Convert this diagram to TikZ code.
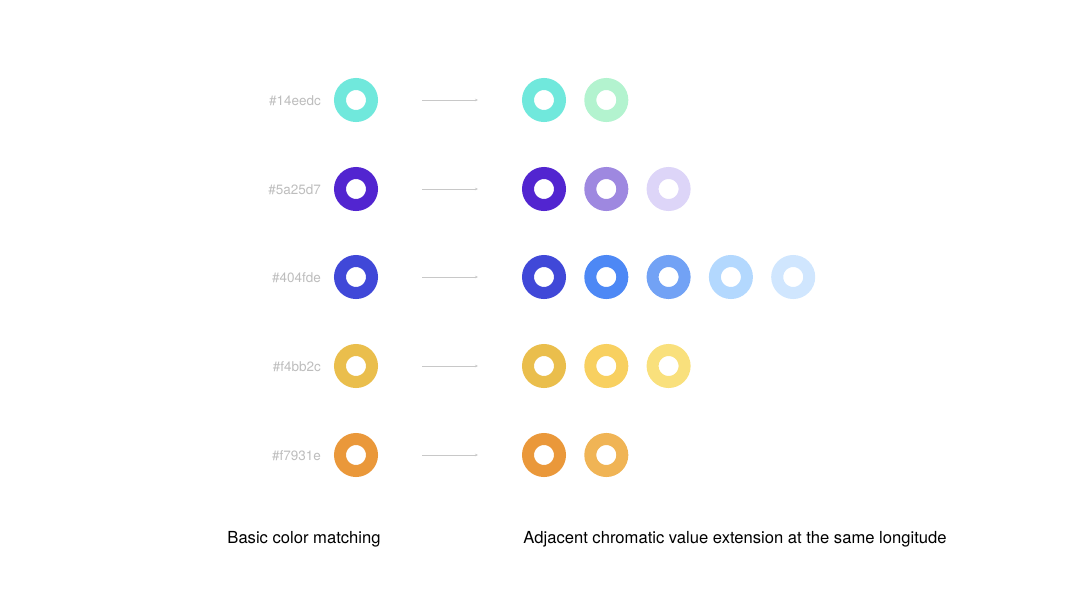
\documentclass[tikz,border=0pt]{standalone}
\usepackage{fontspec}
\setmainfont{TeX Gyre Heros}
\usetikzlibrary{arrows.meta}
\definecolor{hexgray}{HTML}{BDBDBD}
\definecolor{linegray}{HTML}{C8C8C8}
\definecolor{aquaA}{HTML}{70E8DC}
\definecolor{aquaB}{HTML}{B3F3CF}
\definecolor{violetA}{HTML}{5225D0}
\definecolor{violetB}{HTML}{9E88E0}
\definecolor{violetC}{HTML}{DDD5F8}
\definecolor{blueA}{HTML}{4048D8}
\definecolor{blueB}{HTML}{4D88F5}
\definecolor{blueC}{HTML}{72A2F5}
\definecolor{blueD}{HTML}{B3D8FE}
\definecolor{blueE}{HTML}{D0E6FE}
\definecolor{yellowA}{HTML}{EABE4C}
\definecolor{yellowB}{HTML}{F8D060}
\definecolor{yellowC}{HTML}{F9E07C}
\definecolor{orangeA}{HTML}{EA983A}
\definecolor{orangeB}{HTML}{F0B455}
\begin{document}
\begin{tikzpicture}[x=1pt,y=-1pt,node distance=62.3pt,
  ring/.style={circle,draw=#1,line width=12pt,minimum size=32pt,inner sep=0pt,outer sep=6pt},
  hex/.style={anchor=east,inner sep=0pt,text=hexgray,font=\fontsize{13.5}{16}\selectfont},
  caption/.style={font=\fontsize{16.6}{19}\selectfont},
  conn/.style={-{Stealth[length=3pt,width=2.5pt]},draw=linegray,line width=0.6pt,shorten <=44pt,shorten >=44pt}]
  \useasboundingbox (0,0) rectangle (1067,600);
  % aqua
  \node (hA) at (321,101) [hex] {\#14eedc};
  \node (A) at (356,100) [ring=aquaA] {};
  \node (A1) at (544,100) [ring=aquaA] {};
  \node (A2) [right of=A1,ring=aquaB] {};
  \draw[conn] (A) to (A1);
  % violet
  \node (hV) at (321,190) [hex] {\#5a25d7};
  \node (V) at (356,189) [ring=violetA] {};
  \node (V1) at (544,189) [ring=violetA] {};
  \node (V2) [right of=V1,ring=violetB] {};
  \node (V3) [right of=V2,ring=violetC] {};
  \draw[conn] (V) to (V1);
  % blue
  \node (hB) at (321,278) [hex] {\#404fde};
  \node (B) at (356,277) [ring=blueA] {};
  \node (B1) at (544,277) [ring=blueA] {};
  \node (B2) [right of=B1,ring=blueB] {};
  \node (B3) [right of=B2,ring=blueC] {};
  \node (B4) [right of=B3,ring=blueD] {};
  \node (B5) [right of=B4,ring=blueE] {};
  \draw[conn] (B) to (B1);
  % yellow
  \node (hY) at (321,367) [hex] {\#f4bb2c};
  \node (Y) at (356,366) [ring=yellowA] {};
  \node (Y1) at (544,366) [ring=yellowA] {};
  \node (Y2) [right of=Y1,ring=yellowB] {};
  \node (Y3) [right of=Y2,ring=yellowC] {};
  \draw[conn] (Y) to (Y1);
  % orange
  \node (hO) at (321,456) [hex] {\#f7931e};
  \node (O) at (356,455) [ring=orangeA] {};
  \node (O1) at (544,455) [ring=orangeA] {};
  \node (O2) [right of=O1,ring=orangeB] {};
  \draw[conn] (O) to (O1);
  % captions
  \node (basic) at (304,539) [caption] {Basic color matching};
  \node (adjacent) at (735,539) [caption] {Adjacent chromatic value extension at the same longitude};
\end{tikzpicture}
\end{document}
